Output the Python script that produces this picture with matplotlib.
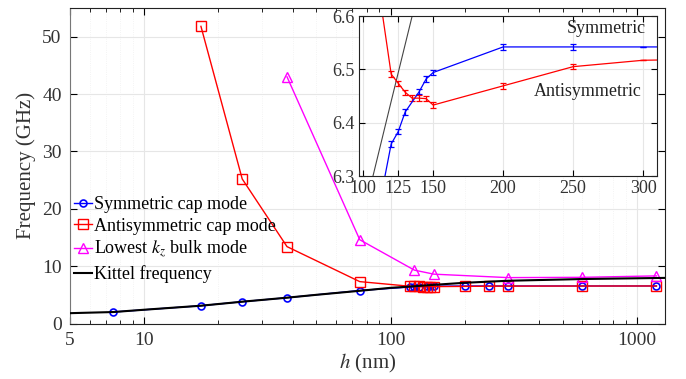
import matplotlib
matplotlib.use("Agg")
import matplotlib.pyplot as plt
import numpy as np

plt.rcParams['font.family'] = ['Liberation Serif', 'DejaVu Serif']
plt.rcParams['mathtext.fontset'] = 'stix'

# ---- data ----
h_sym = [7.5, 17, 25, 38, 75, 120, 125, 130, 140, 145, 150, 200, 250, 300, 600, 1200]
f_sym = [2.0, 3.1, 3.8, 4.5, 5.75, 6.36, 6.383, 6.42, 6.458, 6.482, 6.494, 6.542, 6.542, 6.542, 6.542, 6.542]
err_sym = [0, 0, 0, 0, 0, 0.005, 0.005, 0.005, 0.005, 0.005, 0.005, 0.005, 0.005, 0, 0, 0]

h_anti = [17, 25, 38, 75, 120, 125, 130, 135, 140, 145, 150, 200, 250, 300, 600, 1200]
f_anti = [51.8, 25.2, 13.4, 7.3, 6.491, 6.474, 6.457, 6.446, 6.446, 6.445, 6.433, 6.469, 6.505, 6.517, 6.53, 6.54]
err_anti = [0, 0, 0, 0, 0.005, 0.005, 0.005, 0.005, 0.005, 0.005, 0.005, 0.005, 0.005, 0, 0, 0]

h_bulk = [38, 75, 125, 150, 300, 600, 1200]
f_bulk = [43.0, 14.6, 9.3, 8.6, 8.0, 8.05, 8.3]

h_kit = [5, 7.5, 10, 17, 25, 38, 50, 75, 100, 107, 120, 135, 150, 200, 300, 600, 1300]
f_kit = [1.8, 2.0, 2.4, 3.1, 3.8, 4.5, 5.0, 5.7, 6.22, 6.30, 6.44, 6.60, 6.74, 7.1, 7.45, 7.75, 7.95]

main_xticks = [5, 10, 100, 1000]
main_xticklabels = ['5', '10', '100', '1000']
main_yticks = [0, 10, 20, 30, 40, 50]
inset_xticks = [100, 125, 150, 200, 250, 300]
inset_yticks = [6.3, 6.4, 6.5, 6.6]

tc = '#333333'
fig = plt.figure(figsize=(6.86, 3.79), dpi=100)
ax = fig.add_axes([70/686, 1-323.5/379, (665-70)/686, (323.5-8)/379])

ax.plot(h_sym, f_sym, '-', color='blue', lw=1.0, marker='o', ms=5, mfc='none', mec='blue', mew=1.2,
        label='Symmetric cap mode', zorder=3)
ax.plot(h_anti, f_anti, '-', color='red', lw=1.0, marker='s', ms=7, mfc='none', mec='red', mew=1.0,
        label='Antisymmetric cap mode', zorder=3)
ax.plot(h_bulk, f_bulk, '-', color='magenta', lw=1.0, marker='^', ms=6.5, mfc='none', mec='magenta', mew=1.0,
        label='Lowest $k_z$ bulk mode', zorder=3)
ax.plot(h_kit, f_kit, '-', color='black', lw=1.5, label='Kittel frequency', zorder=4)

ax.set_xscale('log')
ax.set_xlim(5, 1300)
ax.set_ylim(0, 55)
ax.set_xticks(main_xticks)
ax.set_xticklabels(main_xticklabels)
ax.set_yticks(main_yticks)
ax.tick_params(which='both', direction='in', top=True, right=True, labelsize=14, colors='black',
               labelcolor=tc, pad=6)
ax.tick_params(which='major', length=5)
ax.tick_params(which='minor', length=3)
ax.grid(True, which='major', color='#e6e6e6', lw=0.8)
ax.grid(True, which='minor', axis='x', color='#f0f0f0', lw=0.6, ls=':')
ax.set_axisbelow(True)
for s in ax.spines.values():
    s.set_color('#222222')
ax.spines['left'].set_color('#777777')
ax.set_xlabel('$h$ (nm)', fontsize=15, color=tc, labelpad=2)
ax.set_ylabel('Frequency (GHz)', fontsize=15, color=tc, labelpad=4)

leg = ax.legend(loc='upper left', bbox_to_anchor=(0.0, 0.415), frameon=False, fontsize=13,
                handlelength=1.0, handletextpad=0.15, labelspacing=0.25, borderaxespad=0.2, borderpad=0.0)

# ---- inset ----
axi = fig.add_axes([359/686, 1-176/379, (657-359)/686, 160/379])
axi.set_facecolor('white')
axi.errorbar(h_sym, f_sym, yerr=err_sym, color='blue', lw=0.9, capsize=2.5, elinewidth=0.9, capthick=0.9)
axi.errorbar(h_anti, f_anti, yerr=err_anti, color='red', lw=0.9, capsize=2.5, elinewidth=0.9, capthick=0.9)
axi.plot(h_kit, f_kit, '-', color='#444444', lw=0.8)
axi.set_xlim(97, 310)
axi.set_ylim(6.3, 6.6)
axi.set_xticks(inset_xticks)
axi.set_yticks(inset_yticks)
axi.set_yticklabels(['6.3', '6.4', '6.5', '6.6'])
axi.tick_params(direction='in', top=True, right=True, labelsize=13, labelcolor=tc, length=4, pad=3)
axi.grid(True, color='#e6e6e6', lw=0.8)
axi.set_axisbelow(True)
for s in axi.spines.values():
    s.set_color('#222222')
axi.text(302, 6.576, 'Symmetric', ha='right', va='center', fontsize=13, color='#222222')
axi.text(299, 6.458, 'Antisymmetric', ha='right', va='center', fontsize=13, color='#222222')

fig.savefig('out.png', dpi=100)
